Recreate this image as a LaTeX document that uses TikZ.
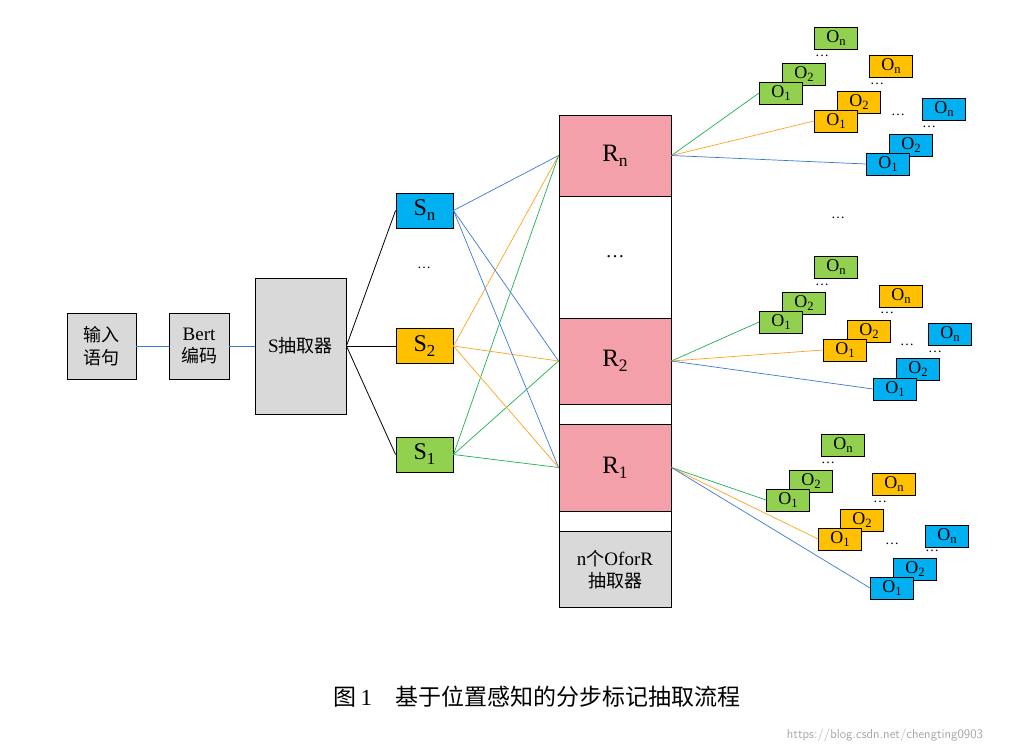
\documentclass[tikz,border=0pt]{standalone}
\usepackage{fontspec}
\setmainfont{Liberation Serif}
\newfontfamily\cjk{Noto Sans CJK SC}
\newcommand{\mysb}[1]{\raisebox{-0.45ex}{\fontsize{0.7em}{0.7em}\selectfont #1}}
\definecolor{fb}{HTML}{00B0F0}
\definecolor{fo}{HTML}{FFC000}
\definecolor{fg}{HTML}{92D050}
\definecolor{fp}{HTML}{F4A0AA}
\definecolor{fgr}{HTML}{D9D9D9}
\definecolor{lb}{HTML}{3A78D8}
\definecolor{lo}{HTML}{FFA21F}
\definecolor{lg}{HTML}{1FB050}
\begin{document}
\begin{tikzpicture}[x=1pt,y=-1pt,
  box/.style={draw=black,line width=0.9pt,inner sep=0pt,align=center,font=\fontsize{19}{22}\selectfont},
  sb/.style={box,minimum width=57pt,minimum height=35pt,font=\fontsize{24}{26}\selectfont},
  ob/.style={draw=black,line width=0.9pt,inner sep=0pt,minimum width=43pt,minimum height=22pt,font=\fontsize{18}{18}\selectfont},
  og/.style={ob,fill=fg}, oo/.style={ob,fill=fo}, obl/.style={ob,fill=fb},
  rb/.style={box,fill=fp,minimum width=112pt,font=\fontsize{25}{26}\selectfont},
  wb/.style={box,fill=white,minimum width=112pt},
  dt/.style={inner sep=0pt,font=\fontsize{14}{14}\selectfont},
  eb/.style={lb,line width=0.7pt}, eo/.style={lo,line width=0.7pt}, eg/.style={lg,line width=0.7pt},
  ek/.style={black,line width=0.8pt}]
\useasboundingbox (0,0) rectangle (1022,753);
% left chain
\node[box,fill=fgr,minimum width=69pt,minimum height=66pt,font=\cjk\fontsize{18}{23}\selectfont] (in) at (101.5,346) {输入\\语句};
\node[box,fill=fgr,minimum width=60pt,minimum height=66pt] (bert) at (199,346) {Bert\\{\cjk\fontsize{18}{22}\selectfont 编码}};
\node[box,fill=fgr,minimum width=91pt,minimum height=136pt] (sx) at (300.5,346) {S{\cjk\fontsize{18}{22}\selectfont 抽取器}};
\draw[eb] (in) -- (bert);
\draw[eb] (bert) -- (sx);
\node[sb,fill=fb] (sn) at (424.5,210.5) {S\mysb{n}};
\node[sb,fill=fo] (s2) at (424.5,346) {S\mysb{2}};
\node[sb,fill=fg] (s1) at (424.5,454.5) {S\mysb{1}};
\node[dt] (sd) at (424,268) {\dots};
\foreach \s in {sn,s2,s1} \draw[ek] (sx.east) -- (\s.west);
% R column
\node[rb,minimum height=81pt] (rn) at (615,155.5) {R\mysb{n}};
\node[wb,minimum height=122pt] (rw) at (615,257) {\dots};
\node[rb,minimum height=86pt] (r2) at (615,361) {R\mysb{2}};
\node[wb,minimum height=20pt] (w2) at (615,414) {};
\node[rb,minimum height=87pt] (r1) at (615,467.5) {R\mysb{1}};
\node[wb,minimum height=20pt] (w1) at (615,521) {};
\node[box,fill=fgr,minimum width=112pt,minimum height=76pt] (ox) at (615,569.5) {n{\cjk\fontsize{18}{22}\selectfont 个}OforR\\{\cjk\fontsize{18}{22}\selectfont 抽取器}};
\foreach \r in {rn,r2,r1} {
  \draw[eb] (sn.east) -- (\r.west);
  \draw[eo] (s2.east) -- (\r.west);
  \draw[eg] (s1.east) -- (\r.west);
}
% cluster n
\node[og] (an) at (836,38) {O\mysb{n}};
\node[og] (a2) at (804,74) {O\mysb{2}};
\node[og] (a1) at (781,93) {O\mysb{1}};
\node[dt] (ad) at (822,56) {\dots};
\node[oo] (bn) at (891,66) {O\mysb{n}};
\node[oo] (b2) at (859,102) {O\mysb{2}};
\node[oo] (b1) at (836,121) {O\mysb{1}};
\node[dt] (bd) at (877,84) {\dots};
\node[dt] (md) at (898,115) {\dots};
\node[obl] (cn) at (944,109) {O\mysb{n}};
\node[obl] (c2) at (911,145) {O\mysb{2}};
\node[obl] (c1) at (888,164) {O\mysb{1}};
\node[dt] (cd) at (929,127) {\dots};
\draw[eg] (rn.east) -- (a1.west);
\draw[eo] (rn.east) -- (b1.west);
\draw[eb] (rn.east) -- (c1.west);
\node[dt] (vd) at (838,218) {\dots};
% cluster 2
\node[og] (dn) at (836,267) {O\mysb{n}};
\node[og] (d2) at (804,303) {O\mysb{2}};
\node[og] (d1) at (781,322) {O\mysb{1}};
\node[dt] (dd) at (822,285) {\dots};
\node[oo] (en) at (901,296) {O\mysb{n}};
\node[oo] (e2) at (869,331) {O\mysb{2}};
\node[oo] (e1) at (845,350) {O\mysb{1}};
\node[dt] (ed) at (887,313) {\dots};
\node[dt] (md2) at (907,345) {\dots};
\node[obl] (fn) at (950,334) {O\mysb{n}};
\node[obl] (f2) at (918,369) {O\mysb{2}};
\node[obl] (f1) at (895,389) {O\mysb{1}};
\node[dt] (fd) at (935,352) {\dots};
\draw[eg] (r2.east) -- (d1.west);
\draw[eo] (r2.east) -- (e1.west);
\draw[eb] (r2.east) -- (f1.west);
% cluster 1
\node[og] (gn) at (843,445) {O\mysb{n}};
\node[og] (g2) at (811,481) {O\mysb{2}};
\node[og] (g1) at (788,500) {O\mysb{1}};
\node[dt] (gd) at (828,463) {\dots};
\node[oo] (hn) at (894,484) {O\mysb{n}};
\node[oo] (h2) at (862,520) {O\mysb{2}};
\node[oo] (h1) at (840,539) {O\mysb{1}};
\node[dt] (hd) at (880,502) {\dots};
\node[dt] (md3) at (892,544) {\dots};
\node[obl] (kn) at (947,536) {O\mysb{n}};
\node[obl] (k2) at (915,569) {O\mysb{2}};
\node[obl] (k1) at (892,588) {O\mysb{1}};
\node[dt] (kd) at (932,551) {\dots};
\draw[eg] (r1.east) -- (g1.west);
\draw[eo] (r1.east) -- (h1.west);
\draw[eb] (r1.east) -- (k1.west);
% caption
\node[font=\fontsize{23}{26}\selectfont] (cap) at (537,697) {{\cjk 图}\,1\quad{\cjk 基于位置感知的分步标记抽取流程}};
\node[font=\fontsize{13}{15}\selectfont\sffamily,text=black!35] (wm) at (885,735) {https://blog.csdn.net/chengting0903};
\end{tikzpicture}
\end{document}
